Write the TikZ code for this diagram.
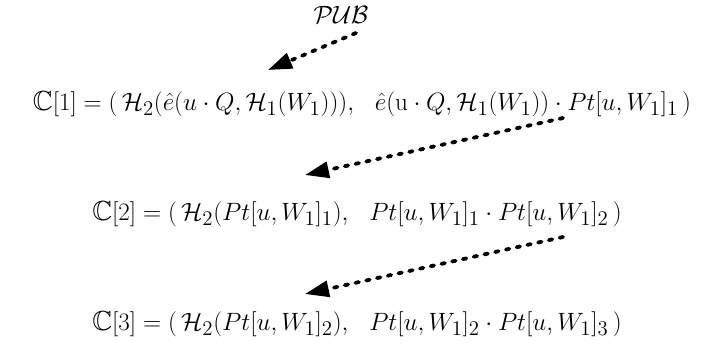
\documentclass[tikz,border=0pt]{standalone}
\usepackage{amsmath,amssymb}
\usetikzlibrary{arrows.meta}
\begin{document}
\begin{tikzpicture}[x=1pt,y=-1pt,
  eq/.style={inner sep=0pt, font=\fontsize{19}{23}\selectfont, scale=1.45, transform shape},
  flow/.style={line width=3.8pt, line cap=round, dash pattern=on 3.5pt off 7.5pt,
    -{Triangle[length=24pt,width=16pt]}}]
\useasboundingbox (0,0) rectangle (711,345);
\node[eq] (pub) at (341,15) {$\mathcal{PUB}$};
\node[eq] (c1) at (362,104) {$\mathbb{C}[1] = (\,\mathcal{H}_2(\hat{e}(u\cdot Q,\mathcal{H}_1(W_1))),\ \ \hat{e}(\mathrm{u}\cdot Q,\mathcal{H}_1(W_1))\cdot Pt[u,W_1]_1\,)$};
\node[eq] (c2) at (357,214) {$\mathbb{C}[2] = (\,\mathcal{H}_2(Pt[u,W_1]_1),\ \ Pt[u,W_1]_1\cdot Pt[u,W_1]_2\,)$};
\node[eq] (c3) at (357,324) {$\mathbb{C}[3] = (\,\mathcal{H}_2(Pt[u,W_1]_2),\ \ Pt[u,W_1]_2\cdot Pt[u,W_1]_3\,)$};
\coordinate (a1s) at (356,33);
\coordinate (a1e) at (268,70);
\coordinate (a2s) at (563,118);
\coordinate (a2e) at (305,175);
\coordinate (a3s) at (563,237);
\coordinate (a3e) at (305,294);
\draw[flow] (a1s) -- (a1e);
\draw[flow] (a2s) -- (a2e);
\draw[flow] (a3s) -- (a3e);
\end{tikzpicture}
\end{document}
